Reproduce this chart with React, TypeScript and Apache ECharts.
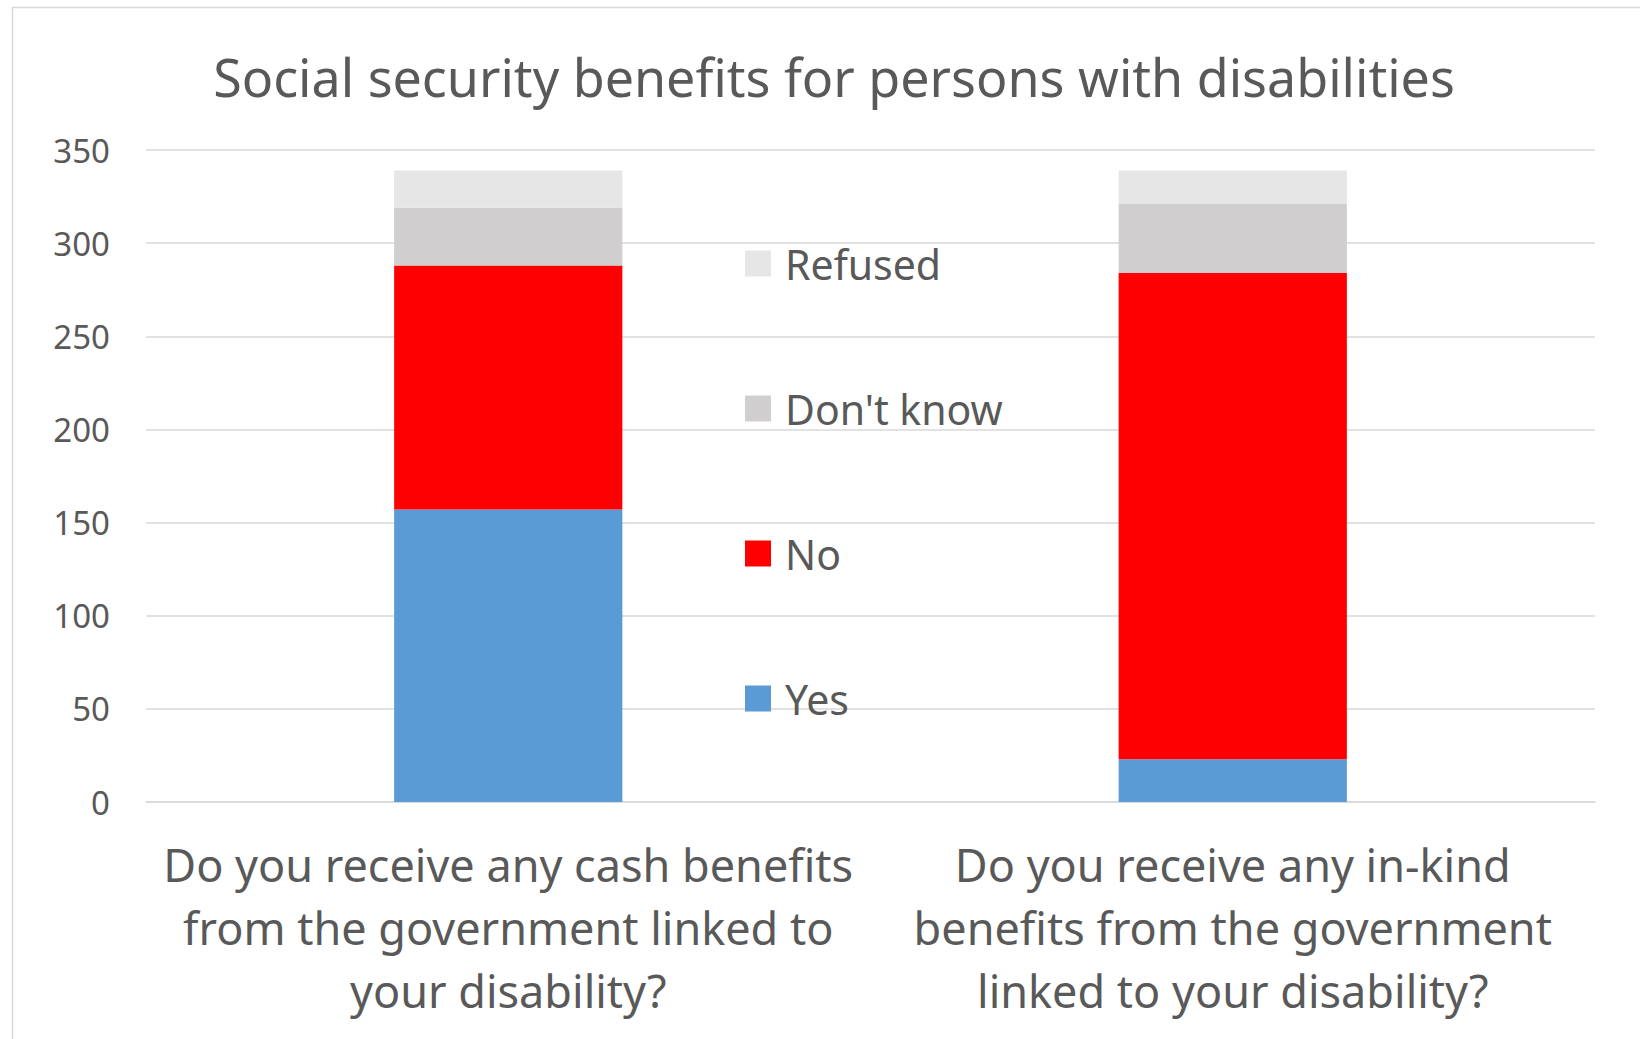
import React, { useEffect, useRef } from "react";
import * as echarts from "echarts";

const categories = [
  "Do you receive any cash benefits\nfrom the government linked to\nyour disability?",
  "Do you receive any in-kind\nbenefits from the government\nlinked to your disability?",
];
const yesValues = [157, 23];
const noValues = [131, 261];
const dontKnowValues = [31, 37];
const refusedValues = [20, 18];
const legendOrder = ["Refused", "Don't know", "No", "Yes"];
const yTicks = { min: 0, max: 350, interval: 50 };

const FONT = "'Noto Sans', 'Open Sans', sans-serif";

export default function App() {
  const ref = useRef<HTMLDivElement>(null);
  useEffect(() => {
    if (!ref.current) return;
    const chart = echarts.init(ref.current, null, { renderer: "svg" });
    const mk = (name: string, data: number[], color: string) => ({
      name,
      type: "bar",
      stack: "total",
      data,
      barCategoryGap: "68.5%",
      itemStyle: { color },
      emphasis: { disabled: true },
    });
    chart.setOption({
      animation: false,
      backgroundColor: "#ffffff",
      textStyle: { fontFamily: FONT },
      title: {
        text: "Social security benefits for persons with disabilities",
        left: 829,
        textAlign: "center",
        top: 45,
        textStyle: { fontFamily: FONT, fontSize: 52, fontWeight: "normal", color: "#595959" },
      },
      graphic: [
        {
          type: "rect",
          shape: { x: 12.5, y: 7.5, width: 1700, height: 1100 },
          style: { fill: "none", stroke: "#D9D9D9", lineWidth: 1.5 },
          silent: true,
        },
      ],
      legend: {
        orient: "vertical",
        left: 740,
        top: 238,
        data: legendOrder,
        itemWidth: 26,
        itemHeight: 26,
        itemGap: 104,
        icon: "rect",
        textStyle: { fontFamily: FONT, fontSize: 41, color: "#595959", lineHeight: 40, padding: [0, 0, 0, 9] },
        selectedMode: false,
      },
      grid: { left: 146, right: 45, top: 150, bottom: 237, containLabel: false },
      xAxis: {
        type: "category",
        data: categories,
        axisLine: { lineStyle: { color: "#D9D9D9", width: 1.5 } },
        axisTick: { show: false },
        axisLabel: {
          interval: 0,
          margin: 31,
          fontFamily: FONT,
          fontSize: 45,
          lineHeight: 63,
          color: "#595959",
        },
      },
      yAxis: {
        type: "value",
        min: yTicks.min,
        max: yTicks.max,
        interval: yTicks.interval,
        axisLine: { show: false },
        axisTick: { show: false },
        splitLine: { lineStyle: { color: "#D9D9D9", width: 1.5 } },
        axisLabel: { margin: 36, fontFamily: FONT, fontSize: 33, color: "#595959" },
      },
      series: [
        mk("Yes", yesValues, "#5B9BD5"),
        mk("No", noValues, "#FF0000"),
        mk("Don't know", dontKnowValues, "#D0CECE"),
        mk("Refused", refusedValues, "#E7E6E6"),
      ],
    });
    return () => chart.dispose();
  }, []);
  return (
    <div
      ref={ref}
      style={{ position: "absolute", left: 0, top: 0, width: 1640, height: 1039 }}
    />
  );
}
